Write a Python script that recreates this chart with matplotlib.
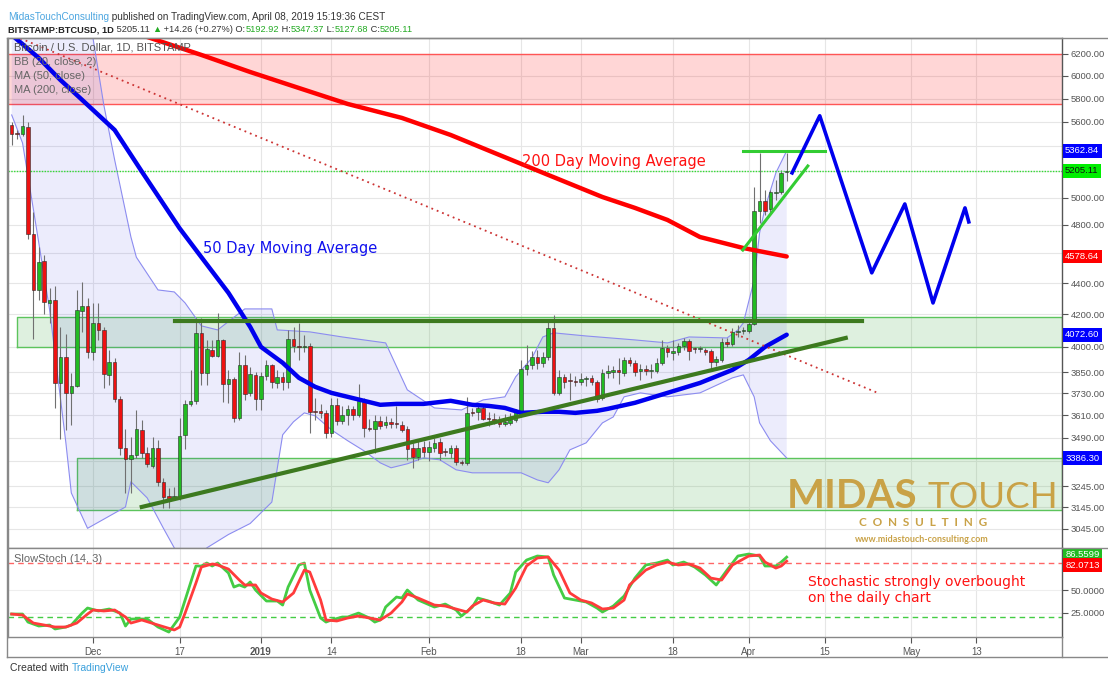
import numpy as np
import pandas as pd
import matplotlib
matplotlib.use('Agg')
import matplotlib.pyplot as plt
import matplotlib.dates as mdates
import matplotlib.text as mtext
from matplotlib.transforms import blended_transform_factory
from matplotlib.patches import Rectangle
from matplotlib.lines import Line2D

# ---------------- data ----------------
dates = pd.date_range('2018-11-16', '2019-04-08', freq='D')
opens = [5575, 5509, 5500, 5558, 4736, 4355, 4549, 4271, 4290, 3789, 3940, 3733, 3772, 4221, 4252,
         3969, 4145, 4102, 3835, 3910, 3700, 3438, 3382, 3402, 3532, 3412, 3347, 3438, 3268, 3200, 3185,
         3190, 3506, 3672, 3689, 4084, 3846, 3981, 3946, 4041, 3784, 3812, 3596, 3893, 3733, 3835,
         3700, 3829, 3893, 3789, 3824, 3795, 4047, 4005, 3999, 4005, 3634, 3634, 3623, 3516, 3667, 3580,
         3612, 3645, 3612, 3683, 3543, 3537, 3580, 3559, 3575, 3569, 3559, 3537, 3438, 3392, 3444,
         3418, 3438, 3469, 3418, 3412, 3438, 3367, 3362, 3629, 3629, 3650, 3596, 3591, 3580, 3564, 3569,
         3585, 3629, 3869, 3893, 3940, 3905, 3940, 4114, 3733, 3824, 3801, 3801,
         3795, 3810, 3818, 3795, 3705, 3846, 3852, 3864, 3846, 3922, 3905, 3858, 3869, 3858, 3858, 3905,
         3993, 3963, 3969, 4005, 4035, 3987, 3985, 3981, 3975, 3910, 3922, 4029, 4017, 4090, 4096,
         4096, 4139, 4902, 4976, 4917, 5036, 5043, 5192.92]
highs = [5600, 5534, 5659, 5600, 4895, 4645, 4589, 4369, 4382, 4121, 4078, 3846, 4355, 4408, 4304,
         4271, 4271, 4121, 3981, 3934, 3716, 3537, 3495, 3639, 3585, 3444, 3495, 3480, 3288, 3239, 3244,
         3596, 3694, 3864, 4176, 4176, 4041, 4041, 4208, 4047, 3864, 3824, 3969, 3952, 3881, 3852,
         3852, 3922, 3899, 3864, 3852, 4102, 4121, 4145, 4072, 4023, 3705, 3672, 3639, 3705, 3705, 3661,
         3667, 3661, 3784, 3705, 3591, 3612, 3607, 3607, 3596, 3661, 3580, 3553, 3464, 3475, 3475,
         3475, 3490, 3490, 3438, 3454, 3454, 3377, 3711, 3650, 3667, 3661, 3629, 3623, 3607, 3618, 3623,
         3645, 3922, 4011, 3975, 3981, 3969, 4164, 4196, 3864, 3841, 3846, 3829,
         3846, 3829, 3835, 3807, 3869, 3893, 3887, 3934, 3940, 3940, 3922, 3899, 3893, 3899, 3934, 4041,
         4011, 4041, 4023, 4053, 4047, 3999, 4005, 3993, 3987, 3946, 4053, 4053, 4114, 4133, 4121,
         4158, 5083, 5346, 5058, 5058, 5134, 5212, 5347.37]
lows = [5411, 5459, 5484, 4701, 4047, 4290, 4202, 4145, 3650, 3485, 3532, 3559, 3766, 4090, 3934,
        3922, 4041, 3761, 3778, 3683, 3402, 3214, 3214, 3387, 3387, 3342, 3337, 3248, 3143, 3143, 3180,
        3180, 3433, 3661, 3672, 3778, 3778, 3940, 3940, 3683, 3678, 3575, 3585, 3694, 3716, 3639,
        3639, 3807, 3761, 3761, 3750, 3761, 3969, 3922, 3969, 3516, 3585, 3596, 3490, 3495, 3559, 3564,
        3559, 3585, 3601, 3495, 3527, 3412, 3537, 3543, 3543, 3543, 3521, 3377, 3337, 3377, 3392,
        3372, 3418, 3377, 3397, 3387, 3352, 3352, 3352, 3607, 3585, 3585, 3553, 3564, 3548, 3553, 3559,
        3575, 3629, 3835, 3870, 3869, 3881, 3922, 3722, 3722, 3761, 3694, 3772,
        3778, 3772, 3778, 3683, 3694, 3818, 3818, 3784, 3829, 3887, 3829, 3807, 3835, 3818, 3846, 3893,
        3940, 3922, 3952, 3981, 3922, 3963, 3969, 3952, 3864, 3887, 3910, 3999, 4005, 4059, 4078,
        4084, 4133, 4815, 4873, 4887, 4983, 5028, 5127.68]
closes = [5500, 5500, 5567, 4736, 4355, 4542, 4278, 4290, 3789, 3940, 3733, 3772, 4227, 4252, 3969,
          4145, 4102, 3841, 3910, 3700, 3438, 3382, 3402, 3537, 3412, 3357, 3438, 3268, 3195, 3185, 3200,
          3500, 3672, 3689, 4084, 3846, 3987, 3946, 4041, 3784, 3812, 3596, 3893, 3728, 3841, 3700,
          3829, 3893, 3795, 3824, 3795, 4047, 4005, 3999, 4005, 3629, 3629, 3623, 3516, 3667, 3580, 3612,
          3645, 3612, 3689, 3543, 3537, 3580, 3553, 3575, 3564, 3564, 3532, 3433, 3392, 3438, 3418,
          3444, 3464, 3412, 3416, 3438, 3367, 3362, 3623, 3623, 3650, 3591, 3591, 3575, 3564, 3575, 3585,
          3629, 3869, 3893, 3940, 3905, 3940, 4114, 3733, 3824, 3795, 3798, 3795,
          3812, 3812, 3795, 3700, 3846, 3858, 3864, 3852, 3922, 3905, 3852, 3869, 3858, 3864, 3905, 3993,
          3969, 3975, 4005, 4035, 3975, 3985, 3987, 3969, 3910, 3928, 4029, 4017, 4090, 4096, 4102,
          4139, 4902, 4976, 4902, 5043, 5043, 5188, 5205.11]

# indicator samples: x = days since 2018-12-01
ma50_day = [-15, -10, -6, -2, 4, 9, 16, 20, 25, 29, 31, 35, 38, 41, 44, 47, 50, 53, 56, 61, 66, 70,
            73, 76, 79, 83, 86, 89, 93, 95, 100, 106, 112, 118, 121, 124, 128]
ma50_val = [6379, 6163, 5963, 5788, 5533, 5200, 4775, 4574, 4336, 4121, 3999, 3905, 3818, 3767, 3733,
            3711, 3689, 3667, 3672, 3672, 3689, 3667, 3661, 3650, 3623, 3629, 3629, 3623, 3634, 3645,
            3678, 3733, 3789, 3864, 3922, 3999, 4072.60]
ma200_day = [10, 20, 29, 38, 47, 57, 66, 75, 84, 94, 100, 106, 112, 120, 128]
ma200_val = [6360, 6191, 6035, 5892, 5753, 5634, 5492, 5330, 5173, 5005, 4924, 4836, 4714, 4637, 4578.64]
bb_up_day = [-15, -7, 0, 2, 4, 7, 8, 12, 15, 17, 20, 23, 28, 33, 34, 40, 46, 54, 58, 63, 68, 72, 76,
             78, 81, 83, 85, 91, 100, 106, 110, 117, 119, 120, 122, 123, 124, 126, 128]
bb_up_val = [6650, 6500, 6350, 5744, 5291, 4714, 4574, 4355, 4342, 4271, 4127, 4102, 4233, 4233, 4102,
             4090, 4059, 4023, 3750, 3650, 3639, 3694, 3711, 3824, 3934, 4059, 4084, 4065, 4041, 4023,
             4059, 4053, 4102, 4145, 4421, 4743, 4923, 5189, 5362.84]
bb_lo_day = [-15, -13, -11, -8, -5, -4, -1, 2, 6, 7, 10, 13, 15, 17, 19, 21, 25, 29, 33, 35, 37, 39, 41,
             44, 47, 50, 53, 55, 58, 61, 64, 67, 70, 73, 79, 82, 84, 86, 88, 91, 94, 96, 98, 101, 106,
             112, 118, 120, 122, 123, 125, 128]
bb_lo_val = [5659, 5427, 4914, 4227, 3464, 3214, 3048, 3090, 3147, 3268, 3190, 3048, 2960, 2900, 2900,
             2960, 3020, 3070, 3170, 3506, 3575, 3623, 3607, 3532, 3475, 3423, 3362, 3337, 3357, 3387,
             3377, 3327, 3312, 3312, 3312, 3277, 3263, 3327, 3428, 3464, 3569, 3601, 3711, 3733, 3711,
             3733, 3818, 3835, 3711, 3569, 3475, 3386.30]
stk_day = [-15, -13, -12, -10, -8, -7, -5, -4, -2, -1, 1, 3, 5, 6, 7, 10, 12, 14, 16, 18, 19, 20, 21,
           22, 23, 25, 26, 27, 28, 29, 30, 32, 34, 35, 36, 38, 39, 40, 42, 43, 44, 46, 47, 49, 51, 52,
           53, 54, 56, 57, 58, 60, 63, 65, 67, 68, 70, 71, 73, 75, 77, 78, 80, 82, 84, 85, 87, 89, 91,
           93, 94, 96, 98, 100, 102, 104, 106, 107, 109, 111, 113, 115, 117, 119, 121, 123, 124, 126,
           127, 128]
stk_k = [23.3, 23.3, 14.4, 10, 11.1, 6.7, 8.9, 11.1, 24.4, 30, 26.7, 28.9, 24.4, 10, 17.8, 17.8, 8.9,
         3.3, 20, 57.8, 76.7, 76.7, 80, 76.7, 80, 68.9, 53.3, 55.6, 53.3, 58.9, 50, 37.8, 37.8, 33.3,
         53.3, 77.8, 80, 50, 18.9, 14.4, 16.7, 20, 20, 24.4, 18.9, 14.4, 16.7, 31.1, 42.2, 41.1,
         50, 38.9, 31.1, 34.4, 27.8, 21.1, 31.1, 41.1, 37.8, 33.3, 46.7, 70, 83.3, 87.8, 86.7, 66.7,
         41.1, 38.9, 36.7, 30, 25.6, 32.2, 43.3, 63.3, 77.8, 80, 83.3, 77.8, 81.1, 75.6, 66.7, 55.6,
         72.2, 87.8, 90, 87.8, 76.7, 76.7, 81.1, 86.5599]
std_day = [-15, -13, -11, -9, -7, -5, -3, -1, 0, 2, 4, 6, 7, 9, 12, 15, 16, 17, 19, 20, 22, 23, 25, 27,
           28, 30, 31, 33, 35, 37, 39, 40, 42, 43, 45, 47, 49, 51, 53, 55, 57, 58, 60, 63, 65, 67, 69,
           70, 72, 74, 76, 78, 80, 82, 84, 86, 88, 90, 92, 94, 96, 98, 99, 102, 104, 106, 108, 110,
           112, 114, 116, 118, 121, 123, 124, 126, 127, 128]
std_d = [23.3, 22.2, 13.3, 11.1, 8.9, 8.9, 13.3, 23.3, 27.8, 26.7, 27.8, 20, 13.3, 16.7, 11.1, 5.6,
         8.9, 24.4, 57.8, 75.6, 78.9, 77.8, 73.3, 61.1, 55.6, 55.6, 46.7, 40, 36.7, 46.7, 72.2, 70,
         38.9, 16.7, 15.6, 18.9, 21.1, 18.9, 16.7, 24.4, 36.7, 45.6, 41.1, 33.3, 32.2, 28.9, 25.6,
         32.2, 38.9, 35.6, 34.4, 52.2, 76.7, 85.6, 86.7, 72.2, 46.7, 38.9, 35.6, 28.9, 30, 38.9, 55.6,
         72.2, 77.8, 81.1, 77.8, 78.9, 74.4, 63.3, 61.1, 77.8, 87.8, 88.9, 81.1, 74.4, 76.7, 82.0713]

# drawings (day offset, price)
proj_day = [129, 134.1, 143.7, 149.8, 155, 160.9, 161.6]
proj_val = [5189, 5652, 4468, 4953, 4271, 4924, 4822]
res_line = ([15.1, 141.9], [4158, 4158])
sup_line = ([9.0, 138.9], [3147, 4053])
dot_line = ([-14.4, 145.2], [6368, 3728])
top_line = ([119.9, 135], [5362.84, 5362.84])
ch_line = ([119.9, 131.9], [4623, 5243])

yticks = [6200, 6000, 5800, 5600, 5000, 4800, 4400, 4200, 4000, 3850, 3730, 3610, 3490, 3245, 3145, 3045]
xtick_days = [0, 16, 31, 44, 62, 79, 90, 107, 121, 135, 151, 163]
xtick_labels = ['Dec', '17', '2019', '14', 'Feb', '18', 'Mar', '18', 'Apr', '15', 'May', '13']

# ---------------- figure ----------------
W, H = 1108, 673
fig = plt.figure(figsize=(W / 100, H / 100), dpi=100)
fig.patch.set_facecolor('white')
FONT = 'Liberation Sans'


def fx(px):
    return px / W


def fy(py):
    return 1 - py / H


BASE = pd.Timestamp('2018-12-01')
b0 = mdates.date2num(BASE)


def dn(d):
    return b0 + np.asarray(d, dtype=float)


L, R = 8, 1062
ax = fig.add_axes([fx(L), fy(548), fx(R) - fx(L), fy(38) - fy(548)])
ax2 = fig.add_axes([fx(L), fy(637), fx(R) - fx(L), fy(548) - fy(637)])

xlo, xhi = dn(-15.68), dn(178.8)
for a in (ax, ax2):
    a.set_xlim(xlo, xhi)
    a.set_facecolor('white')
    for s in a.spines.values():
        s.set_color('#888888')
        s.set_linewidth(1)
    a.spines['right'].set_color('#555555')
    for d in xtick_days:
        a.axvline(dn(d), color='#e6e6e6', lw=0.8, zorder=0)

ax.set_yscale('log')
ax.set_ylim(2959.5, 6350)
ax.minorticks_off()
ax.set_yticks(yticks)
ax.set_yticklabels([f'{v:.2f}' for v in yticks])
ax.yaxis.tick_right()
ax.tick_params(axis='y', which='both', colors='#555555', labelsize=6.8, length=4, pad=2)
for lab in ax.get_yticklabels():
    lab.set_fontfamily(FONT)
ax.set_xticks([])
for v in yticks + [5400, 5200, 4600, 3370]:
    ax.axhline(v, color='#e6e6e6', lw=0.8, zorder=0)

# zones
ax.add_patch(Rectangle((xlo - 5, 5753), xhi - xlo + 10, 6200 - 5753, facecolor='#ff0000', alpha=0.16,
                       edgecolor='none', zorder=1))
ax.plot([xlo, xhi], [6200, 6200], color='#ff5555', lw=1, zorder=1.1)
ax.plot([xlo, xhi], [5753, 5753], color='#ff5555', lw=1, zorder=1.1)
for (d0, lo, hi) in [(-14.0, 3999, 4182), (-2.95, 3133, 3387)]:
    ax.add_patch(Rectangle((dn(d0), lo), xhi + 5 - dn(d0), hi - lo, facecolor='#4caf50', alpha=0.18,
                           edgecolor='none', zorder=1))
    ax.plot([dn(d0), xhi, xhi, dn(d0), dn(d0)], [lo, lo, hi, hi, lo], color='#5cc45c', lw=1, zorder=1.1)

# Bollinger
px = np.concatenate([dn(bb_up_day), dn(bb_lo_day)[::-1]])
py = np.concatenate([bb_up_val, bb_lo_val[::-1]])
ax.fill(px, py, facecolor='#2e2ee6', alpha=0.09, edgecolor='none', zorder=1.5)
ax.plot(dn(bb_up_day), bb_up_val, color='#8c8cf0', lw=0.8, zorder=1.6)
ax.plot(dn(bb_lo_day), bb_lo_val, color='#8c8cf0', lw=0.8, zorder=1.6)

# candles
xs = mdates.date2num(dates)
o = np.array(opens, float); h = np.array(highs, float); lw_ = np.array(lows, float); c = np.array(closes, float)
ax.vlines(xs, lw_, h, color='#707070', lw=0.8, zorder=2)
up = c >= o
bot = np.minimum(o, c)
hgt = np.maximum(np.abs(c - o), bot * 0.0015)
ax.bar(xs[up], hgt[up], bottom=bot[up], width=0.66, color='#22bb22', edgecolor='#2a2a2a', lw=0.4, zorder=3)
ax.bar(xs[~up], hgt[~up], bottom=bot[~up], width=0.66, color='#ee1111', edgecolor='#2a2a2a', lw=0.4, zorder=3)

# last price dotted line
ax.axhline(5205.11, color='#33dd33', lw=1, ls=(0, (1, 1)), zorder=2.5)

# moving averages
ax.plot(dn(ma200_day), ma200_val, color='#ff0000', lw=3.2, zorder=4, solid_capstyle='round')
ax.plot(dn(ma50_day), ma50_val, color='#0000ee', lw=3.2, zorder=4, solid_capstyle='round')

# drawings
ax.plot(dn(dot_line[0]), dot_line[1], color='#cc3333', lw=1.3, ls=(0, (1, 2.2)), zorder=4)
ax.plot(dn(res_line[0]), res_line[1], color='#3d7a1f', lw=3, zorder=4.5)
ax.plot(dn(sup_line[0]), sup_line[1], color='#3d7a1f', lw=3, zorder=4.5)
ax.plot(dn(top_line[0]), top_line[1], color='#33cc33', lw=2.2, zorder=4.5)
ax.plot(dn(ch_line[0]), ch_line[1], color='#33cc33', lw=2.2, zorder=4.5)
ax.plot(dn(proj_day), proj_val, color='#0000ee', lw=2.6, zorder=4.5)

ax.text(dn(79.2), 5243, '200 Day Moving Average', color='#ff1111', fontsize=10.5, zorder=6)
ax.text(dn(20.3), 4603, '50 Day Moving Average', color='#1111ee', fontsize=10.5, zorder=6)

# right-side value labels
tr = blended_transform_factory(ax.transAxes, ax.transData)
for val, fc, tc in [(5362.84, '#0000ff', 'white'), (5205.11, '#00ee00', '#111111'),
                    (4578.64, '#ff0000', 'white'), (4072.60, '#0000ff', 'white'),
                    (3386.30, '#0000ff', 'white')]:
    ax.text(1.003, val, f'{val:.2f}', transform=tr, color=tc, fontsize=6.8, fontfamily=FONT,
            va='center', ha='left', zorder=10, clip_on=False,
            bbox=dict(boxstyle='square,pad=0.25', fc=fc, ec='none'))

# legend texts
for i, t in enumerate(['Bitcoin / U.S. Dollar, 1D, BITSTAMP', 'BB (20, close, 2)', 'MA (50, close)',
                       'MA (200, close)']):
    fig.text(fx(14), fy(48 + 14 * i), t, color='#555555' if i == 0 else '#666666', fontsize=8,
             fontfamily=FONT, va='center', zorder=20)

# ---------------- stochastic ----------------
ax2.set_ylim(-2.2, 96.7)
ax2.plot(dn(std_day), std_d, color='#ff3b3b', lw=2, zorder=3)
ax2.plot(dn(stk_day), stk_k, color='#44cc44', lw=2, zorder=2)
ax2.axhline(80, color='#ff6666', lw=1, ls=(0, (4, 3)))
ax2.axhline(20, color='#44cc44', lw=1, ls=(0, (4, 3)))
for v in (50, 25):
    ax2.axhline(v, color='#eeeeee', lw=0.8, zorder=0)
ax2.yaxis.tick_right()
ax2.set_yticks([50, 25])
ax2.set_yticklabels(['50.0000', '25.0000'])
ax2.tick_params(axis='y', colors='#555555', labelsize=6.8, length=4, pad=2)
ax2.set_xticks(dn(xtick_days))
ax2.set_xticklabels(xtick_labels)
ax2.tick_params(axis='x', colors='#555555', labelsize=7, length=4, pad=3)
for lab in ax2.get_xticklabels() + ax2.get_yticklabels():
    lab.set_fontfamily(FONT)
ax2.get_xticklabels()[2].set_fontweight('bold')
tr2 = blended_transform_factory(ax2.transAxes, ax2.transData)
ax2.text(1.003, 89.5, '86.5599', transform=tr2, color='white', fontsize=6.8, fontfamily=FONT, va='center',
         clip_on=False, bbox=dict(boxstyle='square,pad=0.25', fc='#22bb22', ec='none'))
ax2.text(1.003, 77.5, '82.0713', transform=tr2, color='white', fontsize=6.8, fontfamily=FONT, va='center',
         clip_on=False, bbox=dict(boxstyle='square,pad=0.25', fc='#ff0000', ec='none'))
ax2.text(0.006, 0.88, 'SlowStoch (14, 3)', transform=ax2.transAxes, color='#666666', fontsize=8,
         fontfamily=FONT, va='center')
ax2.text(dn(132), 50, 'Stochastic strongly overbought\non the daily chart', color='#ff1111',
         fontsize=10, va='center', linespacing=1.1)

# frame lines
for (x0, y0, x1, y1) in [(7, 38, W, 38), (7, 657, W, 657), (7, 38, 7, 657), (R, 637, R, 657),
                         (R, 548, W, 548)]:
    fig.add_artist(Line2D([fx(x0), fx(x1)], [fy(y0), fy(y1)], color='#888888', lw=1))

# ---------------- logo ----------------
gold = '#c9a247'
fig.text(fx(787), fy(508), 'MIDAS', color=gold, fontsize=29, fontfamily='Lato', weight='bold',
         va='baseline')
fig.text(fx(927), fy(508), 'TOUCH', color=gold, fontsize=26.5, fontfamily='Lato', weight='normal',
         va='baseline')
fig.text(fx(923), fy(523), 'C  O  N  S  U  L  T  I  N  G', color=gold, fontsize=8.5, fontfamily='Lato',
         weight='bold', va='center', ha='center')
fig.text(fx(922), fy(539), 'www.midastouch-consulting.com', color=gold, fontsize=6.5, fontfamily='Lato',
         weight='bold', va='center', ha='center')

# ---------------- header ----------------
HS = 7.2
t1 = fig.text(fx(8), fy(20), 'MidasTouchConsulting', color='#4da6e0', fontsize=HS, fontfamily=FONT)
fig.add_artist(mtext.Annotation(' published on TradingView.com, April 08, 2019 15:19:36 CEST', xy=(1, 0),
                                xycoords=t1, va='bottom', color='#333333', fontsize=HS, fontfamily=FONT))
HS2 = 6.7
t2 = fig.text(fx(8), fy(32), 'BITSTAMP:BTCUSD, 1D', color='#222222', fontsize=HS2, fontfamily=FONT,
              weight='bold')
prev = t2
for txt, col in [(' 5205.11 ', '#333333'), ('\u25b2', '#22aa22'), (' +14.26 (+0.27%) O:', '#333333'),
                 ('5192.92', '#22aa22'), (' H:', '#333333'), ('5347.37', '#22aa22'), (' L:', '#333333'),
                 ('5127.68', '#22aa22'), (' C:', '#333333'), ('5205.11', '#22aa22')]:
    prev = fig.add_artist(mtext.Annotation(txt, xy=(1, 0), xycoords=prev, va='bottom', color=col,
                                           fontsize=HS2, fontfamily=['Liberation Sans', 'DejaVu Sans']))

# footer
ft = fig.text(fx(10), fy(671), 'Created with ', color='#333333', fontsize=7.5, fontfamily=FONT)
fig.add_artist(mtext.Annotation('TradingView', xy=(1, 0), xycoords=ft, va='bottom',
                                color='#3aa0dc', fontsize=7.5, fontfamily=FONT))

fig.savefig('out.png', dpi=100)
